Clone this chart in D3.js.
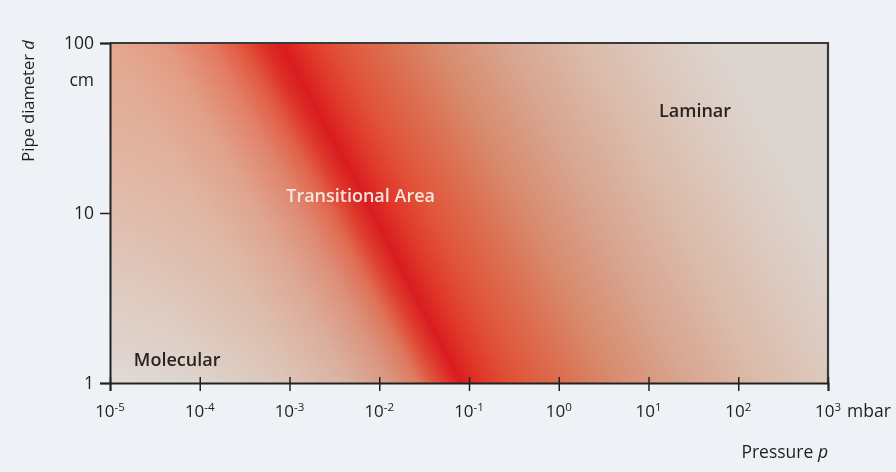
<!DOCTYPE html>
<html>
<head>
<meta charset="utf-8">
<script src="https://cdn.jsdelivr.net/npm/d3@7/dist/d3.min.js"></script>
<style>
  html, body { margin: 0; padding: 0; background: #eef1f5; }
  #wrap { position: relative; width: 896px; height: 472px; overflow: hidden; }
  #wrap canvas, #wrap svg { position: absolute; left: 0; top: 0; }
  text { font-family: "Open Sans", "Liberation Sans", Arial, sans-serif; fill: #1e1e1e; }
</style>
</head>
<body>
<div id="wrap">
  <canvas id="field" width="896" height="472"></canvas>
  <svg id="chart" width="896" height="472"></svg>
</div>
<script>
// Pressure ticks (mbar), given as powers of ten
const pressureExponents = [-5, -4, -3, -2, -1, 0, 1, 2, 3];
// Pipe diameter ticks (cm)
const diameterTicks = [1, 10, 100];

// Centre line of the transitional band: pressure (mbar) at given diameters (cm)
const bandDiameters = [1, 10, 100];
const bandPressures = [0.08, 0.0085, 0.0008];

// Flow regime labels and where they sit (pressure, diameter)
const regionNames = ["Molecular", "Transitional Area", "Laminar"];
const regionPressures = [5.6e-5, 6.2e-3, 33];
const regionDiameters = [1.38, 12.6, 40];

// Colour ramps, in decades of pressure away from the band's centre line.
// Molecular side: one ramp for small pipes, one for large pipes.
const molOffsetsSmall = [-4.0, -2.9, -1.9, -1.25, -0.8, -0.47, -0.25, 0];
const molColorsSmall = ["#e0dbd7", "#ddd4cd", "#dcc4b6", "#dab0a0", "#d99a84", "#de7a60", "#e04a35", "#d91c20"];
const molOffsetsLarge = [-4.0, -1.9, -1.3, -0.8, -0.45, -0.2, 0];
const molColorsLarge = ["#e3a890", "#e3a890", "#e49a80", "#e47a62", "#e2553c", "#dc2e26", "#d91c20"];
// Laminar side
const lamOffsets = [0, 0.3, 0.65, 1.15, 1.7, 2.5, 3.4, 4.2, 4.9];
const lamColors = ["#d91c20", "#e03a2a", "#e0553a", "#dc6e50", "#d88a6c", "#d8a590", "#dbbcab", "#dccac0", "#ddd5cf"];

const W = 896, H = 472;
const plot = { left: 110, right: 828, top: 43, bottom: 383 };

const x = d3.scaleLog().domain([1e-5, 1e3]).range([plot.left, plot.right]);
const y = d3.scaleLog().domain([1, 100]).range([plot.bottom, plot.top]);

const bandCentre = d3.scaleLog().domain(bandDiameters).range(bandPressures.map(Math.log10));
const mkRamp = (o, c) => d3.scaleLinear().domain(o).range(c).interpolate(d3.interpolateRgb).clamp(true);
const molSmall = mkRamp(molOffsetsSmall, molColorsSmall);
const molLarge = mkRamp(molOffsetsLarge, molColorsLarge);
const laminar = mkRamp(lamOffsets, lamColors);

// ---- gradient field on canvas ----
const canvas = document.getElementById("field");
const ctx = canvas.getContext("2d");
const fw = plot.right - plot.left, fh = plot.bottom - plot.top;
const img = ctx.createImageData(fw, fh);
for (let j = 0; j < fh; j++) {
  const d = y.invert(plot.top + j + 0.5);
  const c = bandCentre(d);
  const wTop = Math.max(0, Math.min(1, Math.log10(d) / 2));
  for (let i = 0; i < fw; i++) {
    const p = x.invert(plot.left + i + 0.5);
    const t = Math.log10(p) - c;
    let col;
    if (t < 0) {
      const a = d3.rgb(molSmall(t)), b = d3.rgb(molLarge(t));
      col = { r: a.r + (b.r - a.r) * wTop, g: a.g + (b.g - a.g) * wTop, b: a.b + (b.b - a.b) * wTop };
    } else {
      col = d3.rgb(laminar(t));
    }
    const k = (j * fw + i) * 4;
    img.data[k] = col.r; img.data[k + 1] = col.g; img.data[k + 2] = col.b; img.data[k + 3] = 255;
  }
}
ctx.putImageData(img, plot.left, plot.top);

// ---- axes and labels ----
const svg = d3.select("#chart");

// frame: top and right edges
svg.append("path")
  .attr("d", `M${plot.left},${plot.top}H${plot.right}V${plot.bottom}`)
  .attr("fill", "none").attr("stroke", "#3a3a3a").attr("stroke-width", 2.2);

// y axis
const yAxis = d3.axisLeft(y).tickValues(diameterTicks).tickFormat(d3.format("d")).tickSize(10).tickPadding(6);
const gy = svg.append("g").attr("transform", `translate(${plot.left},0)`).call(yAxis);
gy.select(".domain").attr("stroke", "#222").attr("stroke-width", 2);
gy.selectAll(".tick line").attr("stroke", "#222").attr("stroke-width", 1.5);
gy.selectAll(".tick text").style("font-size", "17.5px").attr("fill", "#1e1e1e");

// x axis
const xAxis = d3.axisBottom(x).tickValues(pressureExponents.map(e => Math.pow(10, e)))
  .tickSize(8).tickFormat("");
const gx = svg.append("g").attr("transform", `translate(0,${plot.bottom})`).call(xAxis);
gx.select(".domain").attr("stroke", "#222").attr("stroke-width", 2);
gx.selectAll(".tick line").attr("y1", -6).attr("stroke", "#222").attr("stroke-width", 1.5);

const xl = svg.append("g").selectAll("text").data(pressureExponents).join("text")
  .attr("x", e => x(Math.pow(10, e)))
  .attr("y", 417)
  .attr("text-anchor", "middle")
  .style("font-size", "17px");
xl.append("tspan").text("10");
xl.append("tspan").attr("dy", -6).style("font-size", "11.5px").text(e => String(e));

svg.append("text").attr("x", 847).attr("y", 417).style("font-size", "17.5px").text("mbar");
svg.append("text").attr("x", 94).attr("y", 86).attr("text-anchor", "end").style("font-size", "17.5px").text("cm");

// axis titles
const xt = svg.append("text").attr("x", 828).attr("y", 458).attr("text-anchor", "end").style("font-size", "17.5px");
xt.append("tspan").text("Pressure ");
xt.append("tspan").style("font-style", "italic").text("p");

const yt = svg.append("text").attr("transform", "translate(34,101) rotate(-90)")
  .attr("text-anchor", "middle").style("font-size", "16.5px");
yt.append("tspan").text("Pipe diameter ");
yt.append("tspan").style("font-style", "italic").text("d");

// region labels
svg.append("g").selectAll("text").data(regionNames).join("text")
  .attr("x", (n, i) => x(regionPressures[i]))
  .attr("y", (n, i) => y(regionDiameters[i]))
  .attr("dy", "0.35em")
  .attr("text-anchor", "middle")
  .style("font-size", "18px")
  .style("font-weight", 600)
  .style("fill", (n, i) => i === 1 ? "#f4e6de" : "#2a2220")
  .text(n => n);
</script>
</body>
</html>
